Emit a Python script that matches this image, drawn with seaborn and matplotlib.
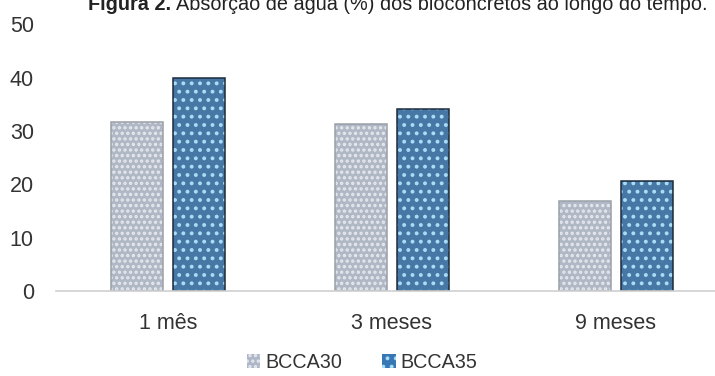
import matplotlib
matplotlib.use("Agg")
import matplotlib.pyplot as plt
from matplotlib.patches import Patch
import seaborn as sns
import pandas as pd

# Water absorption (%) of the bio-concretes over time
periodos = ["1 mês", "3 meses", "9 meses"]
series = ["BCCA30", "BCCA35"]
bcca30 = [31.7, 31.4, 16.8]
bcca35 = [39.9, 34.2, 20.7]
y_ticks = [0, 10, 20, 30, 40, 50]

df = pd.DataFrame({
    "periodo": periodos * 2,
    "serie": [series[0]] * 3 + [series[1]] * 3,
    "absorcao": bcca30 + bcca35,
})

face = {"BCCA30": "#aeb7c8", "BCCA35": "#3777b4"}
hatch_col = {"BCCA30": "#e6e9ef", "BCCA35": "#a9dcf5"}
edge = {"BCCA30": "#9a9fa8", "BCCA35": "#1c2b3c"}
hatches = {"BCCA30": "...", "BCCA35": ".."}

sns.set_theme(style="white")
plt.rcParams["font.family"] = ["Liberation Sans", "DejaVu Sans"]
plt.rcParams["hatch.linewidth"] = 1.6

fig = plt.figure(figsize=(7.15, 3.76), dpi=100)
ax = fig.add_axes([56 / 715, 1 - 291 / 376, 672 / 715, 266.5 / 376])

bw, gp = 0.56, 0.17
sns.barplot(data=df, x="periodo", y="absorcao", hue="serie", order=periodos,
            hue_order=series, palette=face, width=bw, gap=gp, linewidth=0,
            legend=False, ax=ax)
for name, cont in zip(series, ax.containers):
    for p in cont:
        p.set_hatch(hatches[name])
        p.set_edgecolor(hatch_col[name])
        p.set_linewidth(0)

# outlines on top of the hatched fills
sns.barplot(data=df, x="periodo", y="absorcao", hue="serie", order=periodos,
            hue_order=series, palette=edge, width=bw, gap=gp, fill=False,
            linewidth=1.1, legend=False, ax=ax)

ax.set_xlim(-0.5, 2.5)
ax.set_ylim(0, 50)
ax.set_yticks(y_ticks)
ax.set_xlabel("")
ax.set_ylabel("")
for s in ["top", "right", "left"]:
    ax.spines[s].set_visible(False)
ax.spines["bottom"].set_color("#d0d0d0")
ax.spines["bottom"].set_linewidth(1.2)
ax.tick_params(axis="both", length=0, labelsize=15.5, colors="#333333")
ax.tick_params(axis="y", pad=16)
ax.tick_params(axis="x", pad=15.5)
ax.patch.set_alpha(0)

handles = [Patch(facecolor=face[s], edgecolor=hatch_col[s], hatch=hatches[s],
                 linewidth=0, label=s) for s in series]
leg = fig.legend(handles=handles, loc="center", bbox_to_anchor=(362 / 715, 1 - 362 / 376),
                 ncol=2, frameon=False, fontsize=14.2, handlelength=0.7,
                 handleheight=0.7, handletextpad=0.25, columnspacing=2.0)
for t in leg.get_texts():
    t.set_color("#333333")

# title line, bold label followed by the caption text
ty = 1 - 10 / 376
t1 = fig.text(88 / 715, ty, "Figura 2.", fontsize=14.3, fontweight="bold",
              color="#222222", va="baseline")
fig.canvas.draw()
bb = t1.get_window_extent()
fig.text((bb.x1 + 5) / fig.bbox.width, ty,
         "Absorção de água (%) dos bioconcretos ao longo do tempo.",
         fontsize=14.3, color="#222222", va="baseline")

fig.savefig("out.png", dpi=100)
